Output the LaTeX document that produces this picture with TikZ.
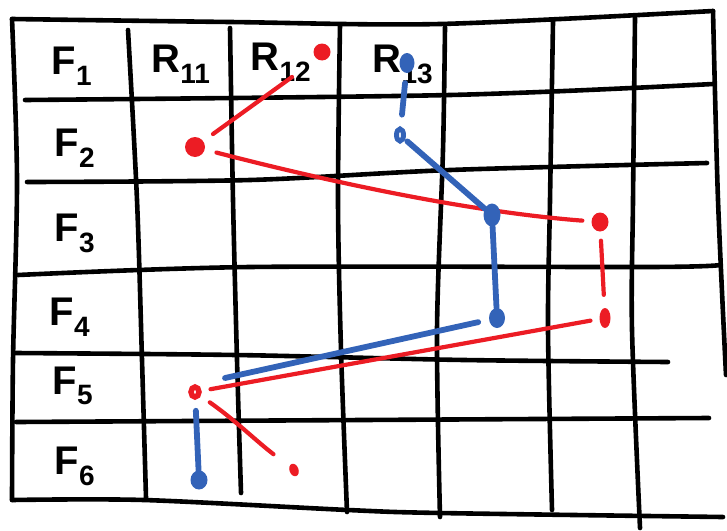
\documentclass[tikz,border=0pt]{standalone}
\usepackage{fontspec}
\setsansfont{Liberation Sans}
\usetikzlibrary{shapes.geometric,positioning,calc}
\definecolor{penred}{RGB}{236,28,36}
\definecolor{penblue}{RGB}{51,99,184}

\begin{document}
\begin{tikzpicture}[x=1pt, y=-1pt,
        gridline/.style={line width=4.6pt, line cap=round, line join=round},
        lbl/.style={font=\fontsize{40}{40}\selectfont\sffamily\bfseries, inner sep=0pt},
        reddot/.style={ellipse, fill=penred, inner sep=0pt},
        bluedot/.style={ellipse, fill=penblue, inner sep=0pt},
        redline/.style={penred, line width=4.2pt, line cap=round},
        blueline/.style={penblue, line width=5.8pt, line cap=round}]
        \useasboundingbox (0,0) rectangle (727,530);

        % frame
        \draw[gridline] plot[smooth] coordinates {(12,19) (230,22) (440,24) (713,11)};
        \draw[gridline] plot[smooth] coordinates {(12,19) (17,180) (13,360) (12,500)};
        \draw[gridline] plot[smooth] coordinates {(713,11) (718,200) (726,375)};
        \draw[gridline] plot[smooth] coordinates {(12,500) (144,500) (348,510) (440,513) (723,517)};

        % rows
        \draw[gridline] plot[smooth] coordinates {(25,100) (450,95) (713,84)};
        \draw[gridline] plot[smooth] coordinates {(27,182) (250,180) (450,170) (707,163)};
        \draw[gridline] plot[smooth] coordinates {(18,275) (250,267) (650,267) (720,265)};
        \draw[gridline] plot[smooth] coordinates {(15,353) (236,355) (464,360) (668,362)};
        \draw[gridline] plot[smooth] coordinates {(16,422) (709,418)};

        % columns
        \draw[gridline] plot[smooth] coordinates {(128,30) (137,200) (142,360) (146,498)};
        \draw[gridline] plot[smooth] coordinates {(230,28) (233,200) (237,360) (241,493)};
        \draw[gridline] plot[smooth] coordinates {(340,25) (338,200) (341,350) (347,512)};
        \draw[gridline] plot[smooth] coordinates {(445,27) (443,150) (437,330) (440,517)};
        \draw[gridline] plot[smooth] coordinates {(553,22) (550,200) (548,330) (552,510)};
        \draw[gridline] plot[smooth] coordinates {(635,18) (633,200) (632,330) (640,528)};

        % headers
        \node[lbl] (f1) at (72,66) {F\textsubscript{1}};
        \node[lbl] (r11) at (181,64) {R\textsubscript{11}};
        \node[lbl] (r12) at (281,62) {R\textsubscript{12}};
        \node[lbl] (r13) at (403,64) {R\textsubscript{13}};
        \node[lbl] (f2) at (75,148) {F\textsubscript{2}};
        \node[lbl] (f3) at (75,233) {F\textsubscript{3}};
        \node[lbl] (f4) at (70,317) {F\textsubscript{4}};
        \node[lbl] (f5) at (73,386) {F\textsubscript{5}};
        \node[lbl] (f6) at (75,466) {F\textsubscript{6}};

        % red path
        \node[reddot, minimum width=17pt, minimum height=17pt] (r0) at (322,52) {};
        \node[reddot, minimum width=20pt, minimum height=20pt] (r1) at (195,147) {};
        \node[reddot, minimum width=17pt, minimum height=19pt] (r2) at (600,222) {};
        \node[reddot, minimum width=11pt, minimum height=20pt] (r3) at (605,318) {};
        \node[ellipse, draw=penred, line width=5.5pt, fill=white, inner sep=0pt, minimum width=8pt, minimum height=10pt] (r4) at (195,392) {};
        \node[reddot, minimum width=9pt, minimum height=13pt, rotate=20] (r5) at (294,470) {};
        \coordinate (r12tail) at (292,77);
        \draw[redline, shorten >=12pt] (r12tail) -- (r1);
        \draw[redline, shorten <=12pt, shorten >=9pt] (r1) .. controls (330,182) and (470,212) .. (r2);
        \draw[redline, shorten <=9pt, shorten >=13pt] (r2) -- (r3);
        \draw[redline, shorten <=9pt, shorten >=9pt] (r3) -- (r4);
        \draw[redline, shorten <=11pt, shorten >=20pt] (r4) .. controls (235,420) and (255,440) .. (r5);

        % blue path
        \node[bluedot, minimum width=15pt, minimum height=20pt] (b1) at (407,63) {};
        \node[ellipse, draw=penblue, line width=5pt, fill=white, inner sep=0pt, minimum width=7pt, minimum height=12pt] (b2) at (400,135) {};
        \node[bluedot, minimum width=17pt, minimum height=23pt] (b3) at (492,215) {};
        \node[bluedot, minimum width=16pt, minimum height=20pt] (b4) at (497,318) {};
        \node[bluedot, minimum width=17pt, minimum height=19pt] (b6) at (199,480) {};
        \coordinate (b4tail) at (225,378);
        \draw[blueline, shorten <=10pt, shorten >=12pt] (b1) -- (b2);
        \draw[blueline, shorten <=3pt] (b2) -- (b3);
        \draw[blueline] (b3) -- (b4);
        \draw[blueline, shorten <=11pt] (b4) -- (b4tail);
        \draw[blueline, shorten <=11pt] (r4) -- (b6);
    \end{tikzpicture}
\end{document}
